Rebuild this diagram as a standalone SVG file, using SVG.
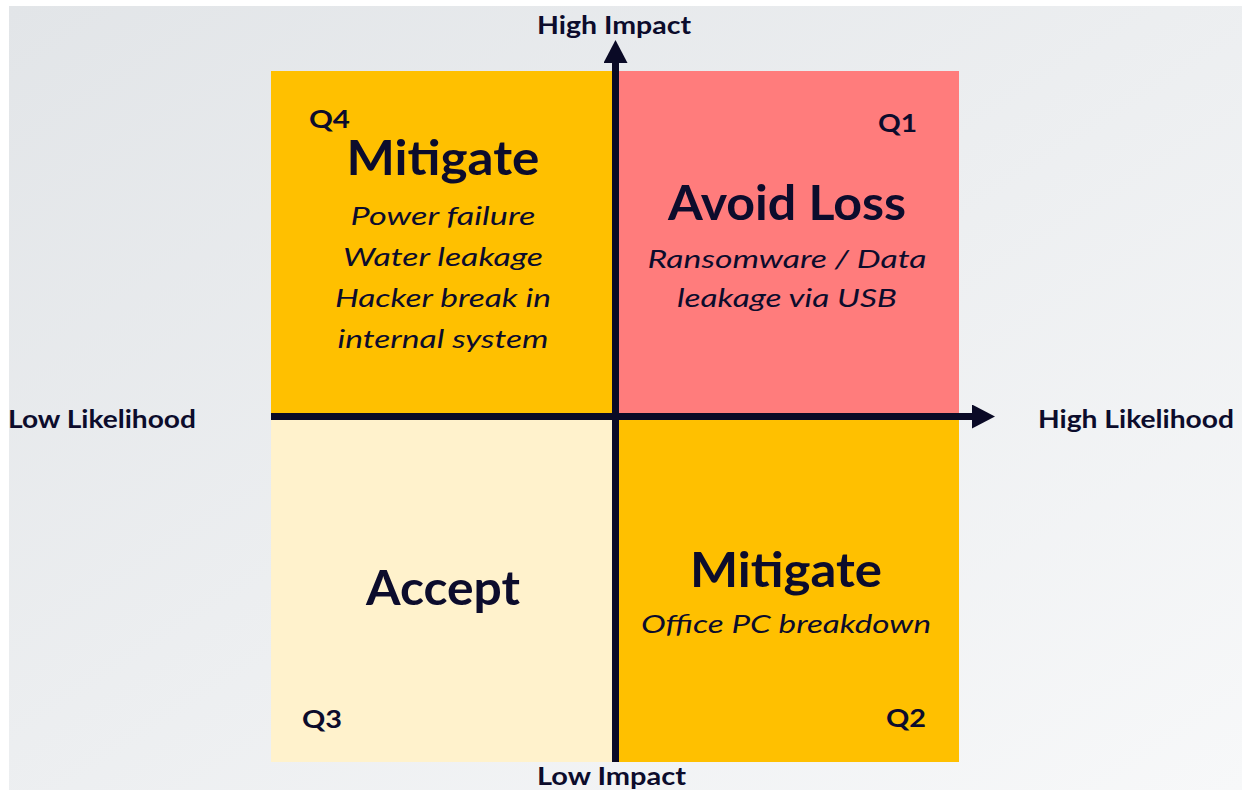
<svg xmlns="http://www.w3.org/2000/svg" width="1242" height="790" viewBox="0 0 1242 790">
  <defs>
    <linearGradient id="bg" x1="0" y1="0" x2="1" y2="1">
      <stop offset="0" stop-color="#e2e5e8"/>
      <stop offset="1" stop-color="#f7f8f9"/>
    </linearGradient>
    <marker id="arrow" viewBox="0 0 23 24" refX="0" refY="12" markerWidth="23" markerHeight="24" markerUnits="userSpaceOnUse" orient="auto">
      <path d="M0,0 L23,12 L0,24 Z" fill="#0a0a26"/>
    </marker>
    <style>
      text { font-family: Lato, "Liberation Sans", sans-serif; fill: #0c0c2c; }
      .axis { font-weight: bold; font-size: 25px; }
      .q { font-weight: bold; font-size: 25px; }
      .title { font-weight: bold; font-size: 48px; text-anchor: middle; }
      .item { font-style: italic; font-size: 26px; text-anchor: middle; }
      .ax { stroke: #0a0a26; stroke-width: 7; fill: none; }
    </style>
  </defs>

  <rect width="1242" height="790" fill="#ffffff"/>
  <rect x="9" y="6" width="1233" height="784" fill="url(#bg)"/>

  <!-- quadrants -->
  <g id="q4">
    <rect x="271" y="71" width="341" height="345" fill="#ffc000"/>
    <text class="q" x="309" y="128" textLength="41" lengthAdjust="spacingAndGlyphs">Q4</text>
    <text class="title" x="443" y="175" textLength="193" lengthAdjust="spacingAndGlyphs">Mitigate</text>
    <text class="item" x="443" y="225" textLength="185" lengthAdjust="spacingAndGlyphs">Power failure</text>
    <text class="item" x="443" y="266" textLength="200" lengthAdjust="spacingAndGlyphs">Water leakage</text>
    <text class="item" x="443" y="307" textLength="216" lengthAdjust="spacingAndGlyphs">Hacker break in</text>
    <text class="item" x="443" y="348" textLength="211" lengthAdjust="spacingAndGlyphs">internal system</text>
  </g>

  <g id="q1">
    <rect x="619" y="71" width="340" height="345" fill="#ff7c7c"/>
    <text class="q" x="878" y="132" textLength="39" lengthAdjust="spacingAndGlyphs">Q1</text>
    <text class="title" x="787" y="220" textLength="238" lengthAdjust="spacingAndGlyphs">Avoid Loss</text>
    <text class="item" x="787" y="268" textLength="279" lengthAdjust="spacingAndGlyphs">Ransomware / Data</text>
    <text class="item" x="787" y="307" textLength="220" lengthAdjust="spacingAndGlyphs">leakage via USB</text>
  </g>

  <g id="q3">
    <rect x="271" y="416" width="341" height="346" fill="#fff2cc"/>
    <text class="title" x="443" y="605" textLength="154" lengthAdjust="spacingAndGlyphs">Accept</text>
    <text class="q" x="302" y="728" textLength="40" lengthAdjust="spacingAndGlyphs">Q3</text>
  </g>

  <g id="q2">
    <rect x="619" y="416" width="340" height="346" fill="#ffc000"/>
    <text class="title" x="786" y="587" textLength="192" lengthAdjust="spacingAndGlyphs">Mitigate</text>
    <text class="item" x="786" y="633" textLength="290" lengthAdjust="spacingAndGlyphs">Office PC breakdown</text>
    <text class="q" x="886" y="727" textLength="40" lengthAdjust="spacingAndGlyphs">Q2</text>
  </g>

  <!-- axes -->
  <g id="connectors">
    <line class="ax" x1="615.5" y1="762" x2="615.5" y2="63" marker-end="url(#arrow)"/>
    <line class="ax" x1="271" y1="416.5" x2="972" y2="416.5" marker-end="url(#arrow)"/>
  </g>

  <g id="axis-labels">
    <text class="axis" x="537" y="34" textLength="154" lengthAdjust="spacingAndGlyphs">High Impact</text>
    <text class="axis" x="537" y="785" textLength="149" lengthAdjust="spacingAndGlyphs">Low Impact</text>
    <text class="axis" x="8" y="428" textLength="188" lengthAdjust="spacingAndGlyphs">Low Likelihood</text>
    <text class="axis" x="1038" y="428" textLength="196" lengthAdjust="spacingAndGlyphs">High Likelihood</text>
  </g>
</svg>
